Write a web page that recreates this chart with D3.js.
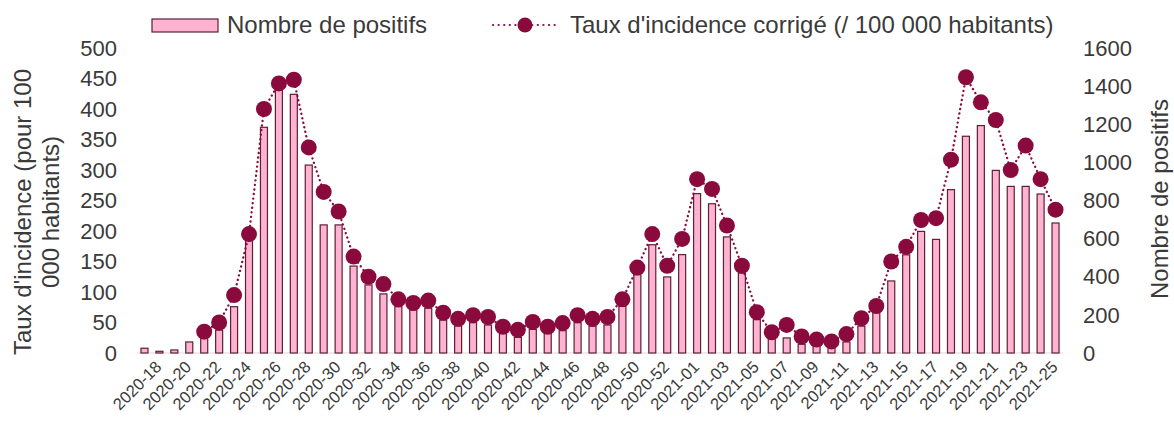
<!DOCTYPE html>
<html>
<head>
<meta charset="utf-8">
<script src="https://cdn.jsdelivr.net/npm/d3@7"></script>
<style>
  body { margin: 0; background: #fff; }
  text { font-family: "Liberation Sans", Arial, sans-serif; fill: #3a3a3a; }
</style>
</head>
<body>
<div id="chart"></div>
<script>
// weeks 2020-17 .. 2020-53, 2021-01 .. 2021-25
const weeks = []
for (let w = 17; w <= 53; w++) weeks.push("2020-" + String(w).padStart(2, "0"))
for (let w = 1; w <= 25; w++) weeks.push("2021-" + String(w).padStart(2, "0"))

// Nombre de positifs (right axis)
const positifs = [25, 9, 16, 58, 79, 120, 243, 593, 1184, 1380, 1357, 986, 672, 672, 456, 357,
  310, 243, 226, 235, 173, 142, 159, 147, 103, 82, 124, 103, 117, 159, 141, 147, 245, 411, 568, 399,
  516, 836, 783, 609, 420, 175, 75, 79, 46, 40, 30, 58, 141, 212, 378, 515, 638, 596, 857, 1137,
  1193, 958, 874, 874, 834, 682]

// Taux d'incidence corrigé (left axis), null = no point
const taux = [null, null, null, null, 35, 50, 95, 195, 400, 442, 448, 337, 264, 232, 158, 125,
  113, 88, 82, 86, 66, 56, 62, 59, 43, 38, 51, 43, 49, 62, 56, 59, 88, 140, 195, 143,
  187, 285, 269, 209, 143, 67, 34, 46, 27, 22, 19, 31, 57, 77, 150, 174, 218, 221, 317, 452,
  411, 382, 300, 340, 285, 235]

const leftTicks = d3.range(0, 501, 50)
const rightTicks = d3.range(0, 1601, 200)

const W = 1174, H = 427
const barFill = "#ffb3d0", barStroke = "#5c1f35", dotColor = "#8b0a3e"

const svg = d3.select("#chart").append("svg")
  .attr("width", W).attr("height", H)

const x = d3.scaleBand().domain(weeks).range([137, 1063])
const yL = d3.scaleLinear().domain([0, 500]).range([353, 48])
const yR = d3.scaleLinear().domain([0, 1600]).range([353, 48])
const cx = d => x(d) + x.bandwidth() / 2
const barW = 7

// baseline
svg.append("line")
  .attr("x1", 137).attr("x2", 1063)
  .attr("y1", yL(0)).attr("y2", yL(0))
  .attr("stroke", "#d9d9d9").attr("stroke-width", 1)

// bars
svg.selectAll(".bar")
  .data(weeks)
  .join("rect")
  .attr("class", "bar")
  .attr("x", d => cx(d) - barW / 2)
  .attr("width", barW)
  .attr("y", (d, i) => yR(positifs[i]))
  .attr("height", (d, i) => yR(0) - yR(positifs[i]))
  .attr("fill", barFill)
  .attr("stroke", barStroke)
  .attr("stroke-width", 1.2)

// dotted line + points
const pts = weeks.map((w, i) => ({ w, v: taux[i] })).filter(d => d.v !== null)
const line = d3.line().x(d => cx(d.w)).y(d => yL(d.v))
svg.append("path")
  .datum(pts)
  .attr("d", line)
  .attr("fill", "none")
  .attr("stroke", dotColor)
  .attr("stroke-width", 2.3)
  .attr("stroke-linecap", "round")
  .attr("stroke-dasharray", "0.1 4.5")

svg.selectAll(".pt")
  .data(pts)
  .join("circle")
  .attr("class", "pt")
  .attr("cx", d => cx(d.w))
  .attr("cy", d => yL(d.v))
  .attr("r", 8)
  .attr("fill", dotColor)

// left axis labels
svg.selectAll(".lt")
  .data(leftTicks)
  .join("text")
  .attr("x", 117)
  .attr("y", d => yL(d))
  .attr("dy", "0.35em")
  .attr("text-anchor", "end")
  .style("font-size", "22px")
  .text(d => d)

// right axis labels
svg.selectAll(".rt")
  .data(rightTicks)
  .join("text")
  .attr("x", 1083)
  .attr("y", d => yR(d))
  .attr("dy", "0.35em")
  .attr("text-anchor", "start")
  .style("font-size", "22px")
  .text(d => d)

// x labels, every other week starting at 2020-18
svg.selectAll(".xt")
  .data(weeks.filter((d, i) => i % 2 === 1))
  .join("text")
  .attr("transform", d => `translate(${cx(d) - 1}, 364) rotate(-45)`)
  .attr("dy", "0.35em")
  .attr("text-anchor", "end")
  .style("font-size", "16.5px")
  .text(d => d)

// axis titles
const lt = svg.append("text")
  .attr("transform", "translate(31, 212) rotate(-90)")
  .attr("text-anchor", "middle")
  .style("font-size", "24px")
lt.append("tspan").attr("x", 0).attr("y", 0).text("Taux  d'incidence (pour 100")
lt.append("tspan").attr("x", 0).attr("y", 28).text("000 habitants)")

svg.append("text")
  .attr("transform", "translate(1168, 199) rotate(-90)")
  .attr("text-anchor", "middle")
  .style("font-size", "24px")
  .text("Nombre de positifs")

// legend
svg.append("rect")
  .attr("x", 152).attr("y", 19).attr("width", 66).attr("height", 13)
  .attr("fill", barFill).attr("stroke", barStroke).attr("stroke-width", 1.2)
svg.append("text")
  .attr("x", 227).attr("y", 33)
  .style("font-size", "24px")
  .text("Nombre de positifs")

svg.append("line")
  .attr("x1", 493).attr("x2", 558).attr("y1", 25).attr("y2", 25)
  .attr("stroke", dotColor).attr("stroke-width", 2.2)
  .attr("stroke-linecap", "round").attr("stroke-dasharray", "0.1 5.5")
svg.append("circle")
  .attr("cx", 525).attr("cy", 25).attr("r", 7.5).attr("fill", dotColor)
svg.append("text")
  .attr("x", 570).attr("y", 33)
  .style("font-size", "24px")
  .text("Taux d'incidence corrigé (/ 100 000 habitants)")
</script>
</body>
</html>
